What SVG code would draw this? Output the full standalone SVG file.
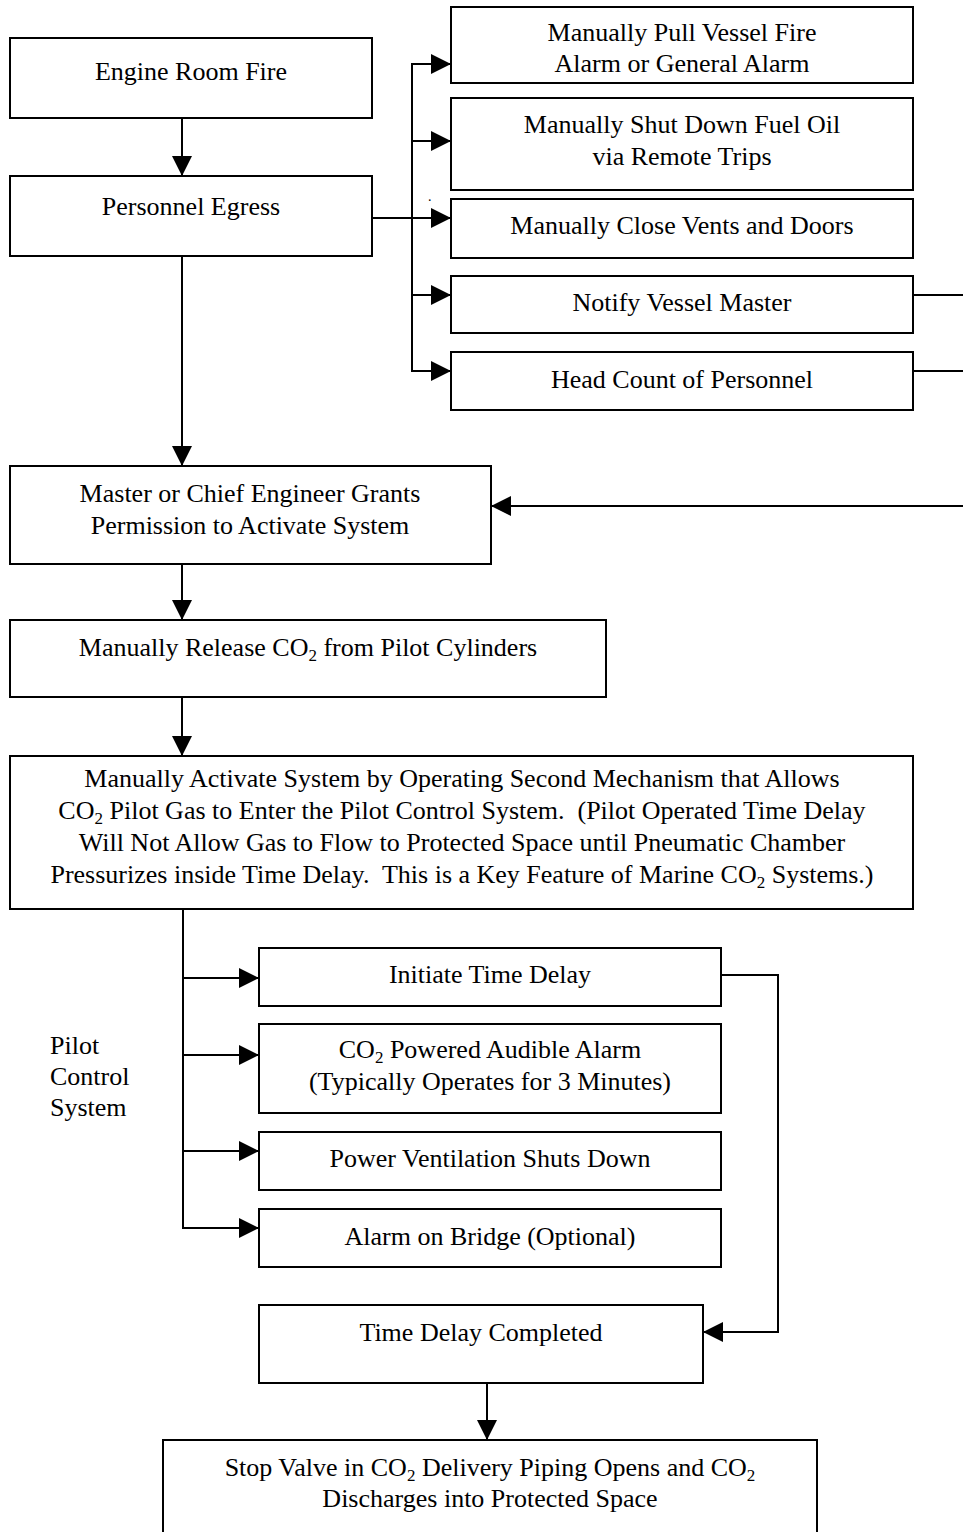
<svg xmlns="http://www.w3.org/2000/svg" width="963" height="1532" viewBox="0 0 963 1532">
<style>
.box{fill:#fff;stroke:#000;stroke-width:2}
.t{font-family:"Liberation Serif","Times New Roman",serif;font-size:26px;fill:#000;text-anchor:middle;white-space:pre}
.l{font-family:"Liberation Serif","Times New Roman",serif;font-size:26px;fill:#000}
.sub{font-size:17px}
.c{fill:none;stroke:#000;stroke-width:2}
</style>
<defs>
<marker id="ah" markerUnits="userSpaceOnUse" markerWidth="20" markerHeight="20" refX="20" refY="10" orient="auto">
<path d="M0,0 L20,10 L0,20 z" fill="#000"/>
</marker>
</defs>
<rect width="963" height="1532" fill="#fff"/>
<g id="connectors">
<path class="c" d="M182,118 V176" marker-end="url(#ah)"/>
<path class="c" d="M182,256 V466" marker-end="url(#ah)"/>
<path class="c" d="M372,218 H451" marker-end="url(#ah)"/>
<path class="c" d="M412,64 V371"/>
<path class="c" d="M411,64 H451" marker-end="url(#ah)"/>
<path class="c" d="M411,141 H451" marker-end="url(#ah)"/>
<path class="c" d="M411,295 H451" marker-end="url(#ah)"/>
<path class="c" d="M411,371 H451" marker-end="url(#ah)"/>
<path class="c" d="M913,295 H963"/>
<path class="c" d="M913,371 H963"/>
<path class="c" d="M963,506 H491" marker-end="url(#ah)"/>
<path class="c" d="M182,564 V620" marker-end="url(#ah)"/>
<path class="c" d="M182,697 V756" marker-end="url(#ah)"/>
<path class="c" d="M183,910 V1228"/>
<path class="c" d="M182,978 H259" marker-end="url(#ah)"/>
<path class="c" d="M182,1055 H259" marker-end="url(#ah)"/>
<path class="c" d="M182,1151 H259" marker-end="url(#ah)"/>
<path class="c" d="M182,1228 H259" marker-end="url(#ah)"/>
<path class="c" d="M721,975 H778 V1332 H703" marker-end="url(#ah)"/>
<path class="c" d="M487,1383 V1440" marker-end="url(#ah)"/>
</g>
<g id="engine-room-fire">
<rect class="box" x="10" y="38" width="362" height="80"/>
<text class="t" x="191" y="80">Engine Room Fire</text>
</g>
<g id="personnel-egress">
<rect class="box" x="10" y="176" width="362" height="80"/>
<text class="t" x="191" y="215">Personnel Egress</text>
</g>
<g id="pull-alarm">
<rect class="box" x="451" y="7" width="462" height="76"/>
<text class="t" x="682" y="41">Manually Pull Vessel Fire</text>
<text class="t" x="682" y="72">Alarm or General Alarm</text>
</g>
<g id="shut-fuel">
<rect class="box" x="451" y="98" width="462" height="92"/>
<text class="t" x="682" y="133">Manually Shut Down Fuel Oil</text>
<text class="t" x="682" y="165">via Remote Trips</text>
</g>
<g id="close-vents">
<rect class="box" x="451" y="199" width="462" height="59"/>
<text class="t" x="682" y="234">Manually Close Vents and Doors</text>
</g>
<text class="l" x="428" y="201" style="font-size:14px">.</text>
<g id="notify-master">
<rect class="box" x="451" y="276" width="462" height="57"/>
<text class="t" x="682" y="311">Notify Vessel Master</text>
</g>
<g id="head-count">
<rect class="box" x="451" y="352" width="462" height="58"/>
<text class="t" x="682" y="388">Head Count of Personnel</text>
</g>
<g id="grants-permission">
<rect class="box" x="10" y="466" width="481" height="98"/>
<text class="t" x="250" y="502">Master or Chief Engineer Grants</text>
<text class="t" x="250" y="534">Permission to Activate System</text>
</g>
<g id="release-pilot">
<rect class="box" x="10" y="620" width="596" height="77"/>
<text class="t" x="308" y="656">Manually Release CO<tspan class="sub" dy="5">2</tspan><tspan dy="-5"> from Pilot Cylinders</tspan></text>
</g>
<g id="activate-system">
<rect class="box" x="10" y="756" width="903" height="153"/>
<text class="t" x="462" y="787">Manually Activate System by Operating Second Mechanism that Allows</text>
<text class="t" x="462" y="819" xml:space="preserve">CO<tspan class="sub" dy="5">2</tspan><tspan dy="-5"> Pilot Gas to Enter the Pilot Control System.  (Pilot Operated Time Delay</tspan></text>
<text class="t" x="462" y="851">Will Not Allow Gas to Flow to Protected Space until Pneumatic Chamber</text>
<text class="t" x="462" y="883" xml:space="preserve">Pressurizes inside Time Delay.  This is a Key Feature of Marine CO<tspan class="sub" dy="5">2</tspan><tspan dy="-5"> Systems.)</tspan></text>
</g>
<g id="pilot-label">
<text class="l" x="50" y="1054">Pilot</text>
<text class="l" x="50" y="1085">Control</text>
<text class="l" x="50" y="1116">System</text>
</g>
<g id="initiate-delay">
<rect class="box" x="259" y="948" width="462" height="58"/>
<text class="t" x="490" y="983">Initiate Time Delay</text>
</g>
<g id="audible-alarm">
<rect class="box" x="259" y="1024" width="462" height="89"/>
<text class="t" x="490" y="1058">CO<tspan class="sub" dy="5">2</tspan><tspan dy="-5"> Powered Audible Alarm</tspan></text>
<text class="t" x="490" y="1090">(Typically Operates for 3 Minutes)</text>
</g>
<g id="ventilation">
<rect class="box" x="259" y="1132" width="462" height="58"/>
<text class="t" x="490" y="1167">Power Ventilation Shuts Down</text>
</g>
<g id="bridge-alarm">
<rect class="box" x="259" y="1209" width="462" height="58"/>
<text class="t" x="490" y="1245">Alarm on Bridge (Optional)</text>
</g>
<g id="delay-completed">
<rect class="box" x="259" y="1305" width="444" height="78"/>
<text class="t" x="481" y="1341">Time Delay Completed</text>
</g>
<g id="stop-valve">
<rect class="box" x="163" y="1440" width="654" height="100"/>
<text class="t" x="490" y="1476">Stop Valve in CO<tspan class="sub" dy="5">2</tspan><tspan dy="-5"> Delivery Piping Opens and CO</tspan><tspan class="sub" dy="5">2</tspan></text>
<text class="t" x="490" y="1507">Discharges into Protected Space</text>
</g>
</svg>
